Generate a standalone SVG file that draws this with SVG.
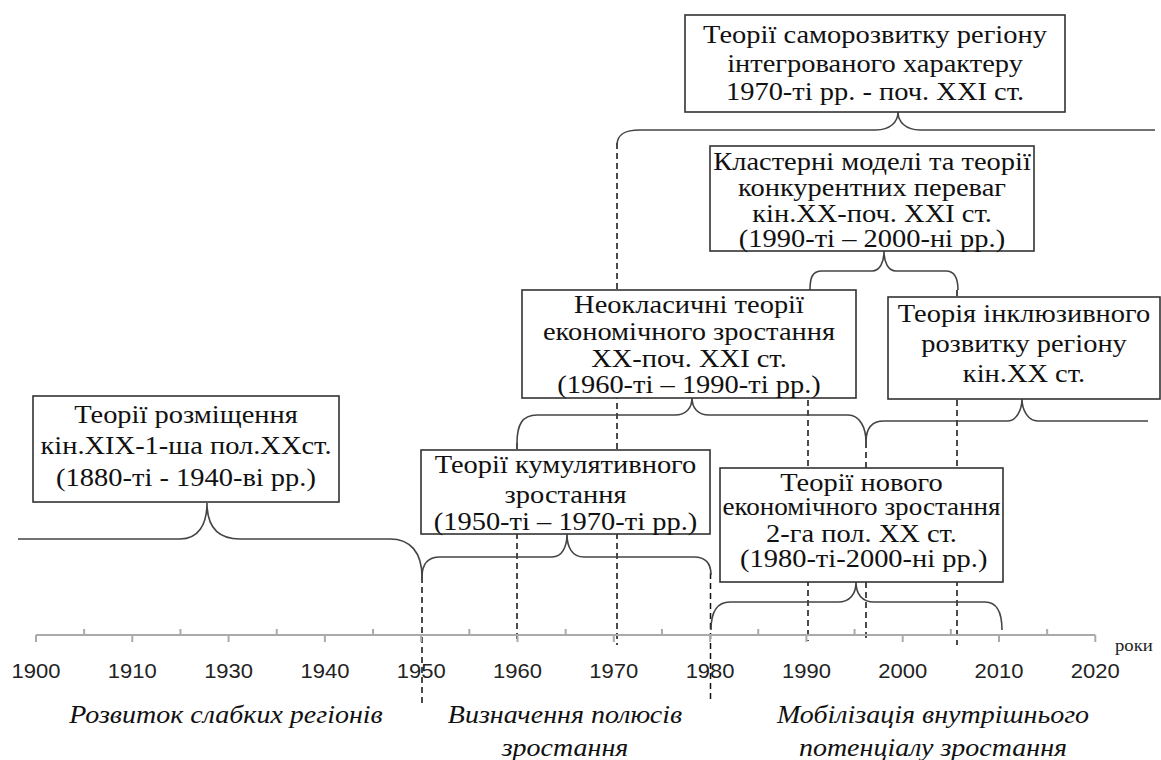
<svg xmlns="http://www.w3.org/2000/svg" width="1161" height="760" viewBox="0 0 1161 760">
<style>
.box{fill:#fff;stroke:#333;stroke-width:1.6}
.t{font-family:"Liberation Serif","Times New Roman",serif;font-size:26px;fill:#111;text-anchor:middle}
.brace{fill:none;stroke:#444;stroke-width:1.6}
.dash{fill:none;stroke:#111;stroke-width:1.5;stroke-dasharray:6 4}
.axis{fill:none;stroke:#aaa;stroke-width:2}
.yr{font-family:"Liberation Sans",Arial,sans-serif;font-size:20px;fill:#222;text-anchor:middle}
.it{font-family:"Liberation Serif","Times New Roman",serif;font-style:italic;font-size:25px;fill:#111;text-anchor:middle}
</style>
<rect width="1161" height="760" fill="#fff"/>
<g id="connectors">
<path class="dash" d="M422 577V703M517 443V640M617 143V645M710.5 573V702M808 290V641M866 442V638M957 290V645"/>
<path class="brace" d="M617 145C617 134 625 130 640 130H876C890 130 898 122 898 112C898 122 906 130 920 130H1155"/>
<path class="brace" d="M810 290C810 278 812 271 822 271H872C880 271 884 262 884 251C884 262 888 271 896 271H946C954 271 958 278 958 290"/>
<path class="brace" d="M517 443C517 425 522 415 537 415H675C686 415 692 408 692 398C692 408 698 415 709 415H848C860 415 866 428 866 442"/>
<path class="brace" d="M866 442C866 428 872 421 884 421H1008C1016 421 1022 410 1022 399C1022 410 1028 421 1038 421H1148"/>
<path class="brace" d="M18 539H180C198 539 207 525 207 503C207 525 216 539 240 539H390C410 539 422 552 422 577"/>
<path class="brace" d="M422 577C422 563 428 557 440 557H552C562 557 567 547 567 534C567 547 572 557 584 557H694C705 557 711 563 711 575"/>
<path class="brace" d="M711 630C711 612 717 602 730 602H838C850 602 856 594 856 582C856 594 862 602 874 602H985C997 602 1002 612 1002 630"/>
</g>
<g id="axis">
<path class="axis" d="M36 635H1095.3"/>
<path class="axis" d="M36 635V642M132.3 635V642M228.6 635V642M324.9 635V642M421.2 635V642M517.5 635V642M613.8 635V642M710.1 635V642M806.4 635V642M902.7 635V642M999 635V642M1095.3 635V642"/>
<path class="axis" d="M84.15 629V635M180.45 629V635M276.75 629V635M373.05 629V635M469.35 629V635M565.65 629V635M661.95 629V635M758.25 629V635M854.55 629V635M950.85 629V635M1047.15 629V635"/>
<text class="yr" transform="translate(36 678) scale(1.1 1)">1900</text>
<text class="yr" transform="translate(132.3 678) scale(1.1 1)">1910</text>
<text class="yr" transform="translate(228.6 678) scale(1.1 1)">1930</text>
<text class="yr" transform="translate(324.9 678) scale(1.1 1)">1940</text>
<text class="yr" transform="translate(421.2 678) scale(1.1 1)">1950</text>
<text class="yr" transform="translate(517.5 678) scale(1.1 1)">1960</text>
<text class="yr" transform="translate(613.8 678) scale(1.1 1)">1970</text>
<text class="yr" transform="translate(710.1 678) scale(1.1 1)">1980</text>
<text class="yr" transform="translate(806.4 678) scale(1.1 1)">1990</text>
<text class="yr" transform="translate(902.7 678) scale(1.1 1)">2000</text>
<text class="yr" transform="translate(999 678) scale(1.1 1)">2010</text>
<text class="yr" transform="translate(1095.3 678) scale(1.1 1)">2020</text>
<text transform="translate(1115 651) scale(1.1 1)" style="font-family:'Liberation Serif','Times New Roman',serif;font-size:17px;fill:#222">роки</text>
</g>
<g id="n-samorozvytok">
<rect class="box" x="685" y="15" width="380" height="97"/>
<g transform="translate(875 0) scale(1.095 1)">
<text class="t" y="43">Теорії саморозвитку регіону</text>
<text class="t" y="72">інтегрованого характеру</text>
<text class="t" y="100">1970-ті рр. - поч. XXI ст.</text>
</g>
</g>
<g id="n-klaster">
<rect class="box" x="710" y="146" width="324" height="105"/>
<g transform="translate(872 0) scale(1.095 1)">
<text class="t" y="170">Кластерні моделі та теорії</text>
<text class="t" y="196">конкурентних переваг</text>
<text class="t" y="222">кін.XX-поч. XXI ст.</text>
<text class="t" y="247">(1990-ті – 2000-ні рр.)</text>
</g>
</g>
<g id="n-neoklas">
<rect class="box" x="522" y="290" width="334" height="108"/>
<g transform="translate(689 0) scale(1.095 1)">
<text class="t" y="313">Неокласичні теорії</text>
<text class="t" y="340">економічного зростання</text>
<text class="t" y="367">XX-поч. XXI ст.</text>
<text class="t" y="393">(1960-ті – 1990-ті рр.)</text>
</g>
</g>
<g id="n-inkluz">
<rect class="box" x="888" y="297" width="272" height="102"/>
<g transform="translate(1024 0) scale(1.095 1)">
<text class="t" y="322">Теорія інклюзивного</text>
<text class="t" y="352">розвитку регіону</text>
<text class="t" y="382">кін.XX ст.</text>
</g>
</g>
<g id="n-rozmishch">
<rect class="box" x="33" y="396" width="306" height="106"/>
<g transform="translate(186 0) scale(1.095 1)">
<text class="t" y="423">Теорії розміщення</text>
<text class="t" y="454">кін.XIX-1-ша пол.XXст.</text>
<text class="t" y="486">(1880-ті - 1940-ві рр.)</text>
</g>
</g>
<g id="n-kumul">
<rect class="box" x="421" y="450" width="289" height="84"/>
<g transform="translate(565.5 0) scale(1.095 1)">
<text class="t" y="473">Теорії кумулятивного</text>
<text class="t" y="503">зростання</text>
<text class="t" y="530">(1950-ті – 1970-ті рр.)</text>
</g>
</g>
<g id="n-novogo">
<rect class="box" x="720" y="468" width="283" height="114"/>
<g transform="translate(861.5 0) scale(1.095 1)">
<text class="t" y="491">Теорії нового</text>
<text class="t" y="515" textLength="254" lengthAdjust="spacingAndGlyphs">економічного зростання</text>
<text class="t" y="542">2-га пол. XX ст.</text>
<text class="t" x="2" y="567">(1980-ті-2000-ні рр.)</text>
</g>
</g>
<g id="periods">
<text class="it" transform="translate(226 723) scale(1.12 1)">Розвиток слабких регіонів</text>
<text class="it" transform="translate(565 723) scale(1.12 1)">Визначення полюсів</text>
<text class="it" transform="translate(565 756) scale(1.12 1)">зростання</text>
<text class="it" transform="translate(933 723) scale(1.12 1)">Мобілізація внутрішнього</text>
<text class="it" transform="translate(933 756) scale(1.12 1)">потенціалу зростання</text>
</g>
</svg>
